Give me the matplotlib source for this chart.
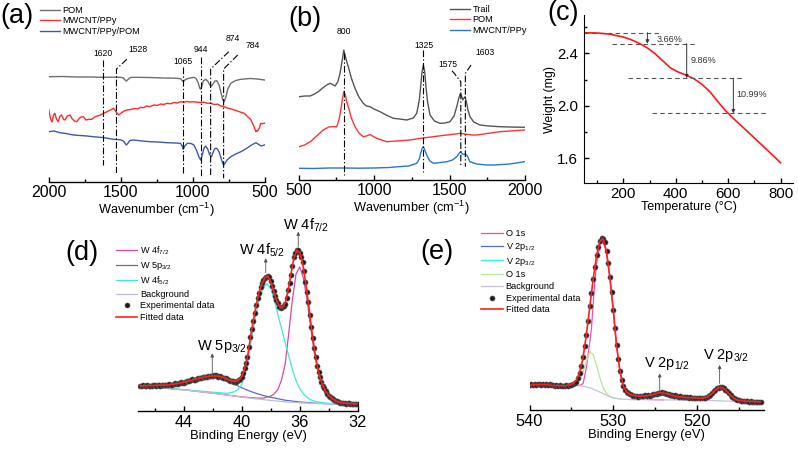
import numpy as np
import matplotlib

matplotlib.use("Agg")
import matplotlib.pyplot as plt

plt.rcParams["font.family"] = ["Liberation Sans", "DejaVu Sans"]
plt.rcParams["mathtext.fontset"] = "custom"
plt.rcParams["mathtext.rm"] = "Liberation Sans"
plt.rcParams["mathtext.it"] = "Liberation Sans:italic"
plt.rcParams["mathtext.bf"] = "Liberation Sans:bold"
plt.rcParams["mathtext.default"] = "regular"

# ---------------- (a) FTIR (offset intensities, a.u.) ----------------
ftir_pom_wn = [2000, 1900, 1800, 1700, 1641, 1560, 1500, 1480, 1468, 1459,
               1448, 1430, 1410, 1300, 1200, 1120, 1083, 1072, 1064, 1055,
               1036, 1010, 990, 975, 960, 950, 943, 935, 925, 908,
               895, 880, 868, 858, 845, 831, 815, 800, 790, 780,
               770, 755, 734, 700, 664, 600, 550, 500]
ftir_pom = [105.3, 105.5, 105.0, 105.0, 104.7, 104.8, 104.7, 104.0, 102.0, 101.0,
            102.5, 104.5, 104.7, 104.5, 104.0, 103.8, 103.3, 101.5, 100.3, 101.8,
            103.3, 104.2, 104.7, 103.5, 99.0, 94.0, 92.7, 96.0, 101.0, 102.7,
            101.0, 97.0, 96.0, 98.0, 101.0, 101.3, 97.0, 88.0, 82.0, 80.3,
            84.0, 93.0, 98.7, 101.5, 102.7, 103.5, 103.0, 102.0]

ftir_ppy_wn = [2000, 1990, 1982, 1975, 1965, 1955, 1945, 1932, 1920, 1909,
               1895, 1885, 1870, 1850, 1835, 1820, 1804, 1790, 1775, 1757,
               1740, 1720, 1699, 1680, 1660, 1641, 1620, 1594, 1570, 1548,
               1530, 1513, 1495, 1475, 1455, 1430, 1400, 1380, 1362, 1340,
               1320, 1295, 1269, 1245, 1220, 1200, 1176, 1150, 1130, 1105,
               1083, 1060, 1040, 1015, 990, 965, 940, 920, 897, 875,
               850, 825, 804, 780, 760, 735, 711, 690, 680, 660,
               641, 625, 615, 600, 594, 585, 575, 565, 560, 553,
               548, 542, 536, 530, 525, 515, 505, 495]
ftir_ppy = [73.7, 66.0, 62.0, 60.0, 67.0, 68.7, 63.0, 60.3, 66.0, 67.0,
            62.5, 62.0, 66.0, 67.0, 63.0, 61.0, 60.3, 63.0, 65.0, 65.3,
            62.0, 62.7, 62.7, 65.0, 66.0, 67.0, 68.5, 70.3, 72.0, 73.7,
            70.0, 67.0, 69.0, 71.0, 72.0, 72.5, 73.5, 73.0, 74.7, 74.2,
            76.0, 75.4, 77.0, 76.6, 78.0, 77.5, 78.7, 78.2, 79.5, 79.0,
            80.3, 79.8, 80.5, 80.0, 80.3, 79.7, 79.5, 79.8, 78.7, 78.9,
            77.5, 77.8, 76.0, 75.3, 74.0, 73.2, 72.0, 71.2, 70.5, 69.5,
            68.7, 66.5, 65.0, 63.2, 62.0, 59.0, 56.0, 52.5, 50.3, 51.5,
            51.0, 52.5, 53.7, 57.0, 58.7, 58.2, 58.7, 58.7]

ftir_hyb_wn = [2000, 1960, 1940, 1920, 1880, 1827, 1780, 1734, 1690, 1641,
               1600, 1548, 1500, 1480, 1465, 1459, 1450, 1435, 1410, 1350,
               1293, 1240, 1176, 1120, 1083, 1072, 1064, 1056, 1036, 1010,
               990, 970, 955, 943, 932, 920, 908, 895, 880, 868,
               856, 845, 831, 815, 800, 790, 785, 775, 760, 734,
               700, 664, 620, 590, 560, 545, 524, 500]
ftir_hyb = [50.3, 51.0, 50.0, 49.3, 48.5, 47.0, 46.5, 46.0, 45.3, 44.7,
            44.0, 42.7, 42.2, 41.0, 38.0, 37.0, 38.5, 41.5, 42.0, 41.0,
            40.3, 40.0, 39.3, 39.0, 38.7, 36.0, 32.7, 35.5, 38.7, 38.5,
            37.0, 31.0, 25.0, 22.0, 27.0, 34.0, 36.0, 33.0, 27.0, 25.3,
            30.0, 33.5, 33.7, 30.0, 23.0, 18.5, 17.0, 18.5, 22.0, 25.3,
            28.0, 30.3, 34.0, 37.0, 39.3, 38.0, 36.0, 37.0]

# ---------------- (b) Raman (offset intensities, a.u.) ----------------
raman_trail_wn = [505, 540, 576, 600, 631, 660, 687, 709, 725, 742,
                  760, 775, 790, 800, 808, 818, 830, 850, 874, 900,
                  929, 950, 974, 1000, 1040, 1080, 1128, 1170, 1217, 1260,
                  1283, 1300, 1309, 1318, 1327, 1336, 1344, 1355, 1371, 1400,
                  1437, 1470, 1503, 1530, 1548, 1562, 1570, 1578, 1588, 1596,
                  1603, 1612, 1622, 1636, 1660, 1702, 1760, 1834, 1900, 1995]
raman_trail = [83.3, 84.0, 84.0, 85.5, 88.3, 92.0, 95.0, 96.7, 95.5, 94.0,
               98.0, 106.7, 120.0, 130.0, 125.0, 119.0, 113.3, 102.0, 91.7, 83.0,
               76.7, 74.0, 73.3, 71.0, 68.3, 65.0, 61.7, 61.0, 60.0, 62.0,
               66.7, 80.0, 93.3, 108.0, 115.0, 108.0, 93.3, 78.0, 65.0, 59.0,
               56.7, 57.0, 58.3, 64.0, 73.3, 82.0, 86.0, 85.0, 80.0, 82.0,
               83.3, 78.0, 70.0, 63.3, 58.0, 55.0, 54.0, 53.3, 53.0, 52.7]

raman_pom_wn = [505, 540, 580, 620, 664, 700, 720, 753, 768, 780,
                792, 800, 810, 820, 830, 850, 874, 900, 929, 950,
                974, 990, 1018, 1050, 1084, 1150, 1239, 1300, 1393, 1480,
                1540, 1570, 1600, 1650, 1680, 1750, 1834, 1900, 1995]
raman_pom = [33.3, 35.0, 38.5, 44.0, 50.0, 53.0, 53.3, 53.3, 60.0, 70.0,
             82.0, 88.3, 85.0, 78.0, 73.3, 62.0, 53.3, 47.0, 43.3, 44.0,
             45.5, 44.0, 41.7, 40.0, 38.3, 39.0, 40.0, 41.5, 43.3, 45.0,
             46.0, 46.7, 46.0, 45.0, 45.0, 46.5, 48.3, 49.0, 50.0]

raman_ppy_wn = [505, 600, 700, 800, 900, 1000, 1100, 1162, 1230, 1283,
                1300, 1309, 1320, 1327, 1336, 1349, 1370, 1393, 1440, 1482,
                1520, 1548, 1565, 1575, 1585, 1595, 1605, 1618, 1635, 1680,
                1746, 1800, 1900, 1995]
raman_ppy = [11.7, 11.5, 12.0, 12.0, 11.8, 12.0, 12.5, 13.3, 14.0, 16.7,
             21.0, 26.7, 32.0, 33.3, 30.0, 25.0, 19.0, 16.7, 17.5, 18.3,
             20.0, 23.3, 27.0, 28.3, 26.0, 25.5, 26.0, 24.0, 18.3, 16.0,
             15.0, 15.0, 16.0, 18.3]

# ---------------- (c) TGA ----------------
tga_temp = [50, 100, 150, 200, 230, 260, 290, 320, 350, 380, 410,
            440, 470, 500, 530, 560, 590, 620, 650, 700, 750, 800]
tga_weight = [2.558, 2.556, 2.547, 2.525, 2.505, 2.478, 2.445, 2.400, 2.345, 2.290, 2.258,
              2.235, 2.207, 2.165, 2.110, 2.035, 1.965, 1.905, 1.850, 1.757, 1.663, 1.568]
tga_levels = [2.558, 2.475, 2.211, 1.944]
tga_losses = ["3.66%", "9.86%", "10.99%"]

# ---------------- (d) W 4f XPS (a.u.) ----------------
w4f_fit = [12.8, 12.9, 12.9, 13.0, 13.0, 13.0, 13.1, 13.2, 13.2, 13.3,
           13.4, 13.6, 13.8, 14.0, 14.4, 14.7, 15.0, 15.4, 15.8, 16.2,
           16.6, 16.9, 17.2, 17.5, 17.8, 17.9, 17.9, 17.7, 17.4, 16.9,
           16.2, 15.6, 15.2, 15.1, 15.8, 17.5, 21.5, 27.5, 37.5, 46.0,
           54.0, 60.5, 65.0, 68.0, 68.8, 66.0, 61.5, 56.5, 53.5, 52.6,
           55.0, 61.5, 70.0, 78.0, 82.0, 81.0, 75.5, 66.0, 55.0, 43.0,
           32.0, 23.5, 17.0, 13.0, 10.0, 8.0, 6.6, 5.5, 4.8, 4.3,
           4.0, 3.9, 3.8, 3.7, 3.6, 3.6]
w4f_exp = [12.6, 13.0, 13.1, 12.7, 12.8, 13.2, 13.0, 12.8, 12.9, 13.2,
           13.1, 12.9, 13.3, 13.1, 12.9, 13.2, 13.4, 13.1, 13.2, 13.5,
           13.7, 13.4, 13.5, 13.8, 14.1, 13.9, 13.9, 14.2, 14.6, 14.4,
           14.5, 14.9, 15.3, 15.1, 15.2, 15.6, 16.1, 15.8, 16.0, 16.5,
           16.9, 16.6, 16.7, 17.2, 17.5, 17.3, 17.4, 17.9, 18.1, 17.7,
           17.8, 18.2, 18.2, 17.8, 17.6, 17.8, 17.5, 17.0, 16.7, 16.6,
           16.4, 15.8, 15.5, 15.2, 15.3, 15.0, 15.0, 15.2, 15.9, 16.5,
           17.3, 19.2, 21.8, 24.3, 27.3, 32.4, 37.9, 41.6, 45.7, 50.2,
           54.3, 57.6, 60.2, 63.1, 65.4, 66.8, 67.8, 68.6, 69.1, 68.3,
           66.2, 64.0, 61.3, 58.8, 56.8, 54.9, 53.2, 52.6, 52.9, 53.4,
           54.7, 57.8, 61.9, 65.5, 69.6, 74.1, 78.4, 80.5, 82.1, 82.3,
           80.6, 78.4, 75.9, 71.2, 65.7, 60.6, 55.4, 48.9, 42.7, 37.2,
           32.3, 27.4, 23.2, 20.1, 17.3, 14.8, 12.8, 11.6, 10.2, 8.9,
           7.9, 7.3, 6.8, 6.0, 5.4, 5.2, 4.9, 4.5, 4.2, 4.3,
           4.1, 3.9, 3.8, 4.0, 3.9, 3.7, 3.6, 3.8, 3.7, 3.5,
           3.5]
w4f_fit_be = np.linspace(47.0, 32.0, len(w4f_fit))
w4f_exp_be = np.linspace(47.0, 32.0, len(w4f_exp))

w_bg_be = [47, 46, 45, 44, 43, 42, 41, 40, 39, 38, 37, 36, 35, 34, 33, 32]
w_bg = [12.6, 12.1, 11.5, 10.8, 10.0, 9.1, 8.1, 7.1, 6.2, 5.4, 4.7, 4.2, 3.9, 3.7, 3.6, 3.5]

w5p_be = [47, 46, 45, 44.5, 44, 43.5, 43, 42.5, 42, 41.5, 41, 40.5, 40,
          39.5, 39, 38.5, 38, 37, 36, 35, 34, 33, 32]
w5p = [12.7, 12.4, 12.6, 13.2, 14.0, 14.9, 15.8, 16.6, 17.2, 16.9, 15.6, 13.6, 11.9,
       10.3, 9.0, 7.9, 7.0, 5.5, 4.6, 4.0, 3.7, 3.6, 3.5]

w4f52_be = [47, 45, 43, 42, 41, 40.5, 40.25, 40, 39.75, 39.5, 39.25, 39, 38.75,
            38.5, 38.25, 38, 37.75, 37.5, 37.25, 37, 36.75, 36.5, 36.25, 36,
            35.75, 35.5, 35.25, 35, 34.5, 34, 33, 32]
w4f52 = [12.6, 11.6, 10.2, 9.6, 9.0, 9.8, 11.0, 13.5, 19.0, 29.0, 40.0, 50.0, 58.0,
         63.0, 65.0, 62.5, 56.5, 49.0, 42.0, 35.0, 28.0, 21.0, 15.5, 11.5,
         8.8, 7.0, 5.8, 5.0, 4.3, 3.9, 3.6, 3.5]

w4f72_be = [47, 44, 42, 40, 39, 38.5, 38, 37.75, 37.5, 37.25, 37, 36.75, 36.5,
            36.25, 36, 35.75, 35.5, 35.25, 35, 34.75, 34.5, 34.25, 34, 33.75,
            33.5, 33, 32]
w4f72 = [12.6, 10.8, 9.1, 7.2, 6.6, 6.6, 7.6, 8.8, 11.0, 16.0, 24.0, 40.0, 57.0,
         70.0, 73.5, 68.0, 57.0, 43.0, 30.0, 20.5, 14.0, 10.0, 7.7, 6.0,
         4.9, 4.0, 3.5]

# ---------------- (e) O 1s / V 2p XPS (a.u.) ----------------
ov_fit = [12.8, 12.9, 13.0, 13.0, 13.1, 13.0, 12.8, 12.6, 12.5, 12.4,
          12.4, 12.5, 12.8, 13.5, 15.2, 19.5, 27.0, 39.0, 53.0, 67.0,
          79.0, 86.5, 87.8, 81.0, 68.0, 51.5, 33.0, 20.0, 12.3, 9.2,
          8.0, 7.5, 7.2, 7.1, 7.2, 7.3, 7.6, 8.0, 8.5, 8.9,
          8.7, 8.3, 7.8, 7.3, 6.9, 6.7, 6.5, 6.4, 6.3, 6.2,
          6.1, 6.0, 6.1, 6.6, 7.7, 9.4, 11.0, 11.7, 11.0, 9.4,
          7.6, 6.0, 5.1, 4.8, 4.6, 4.5, 4.4, 4.3, 4.2, 4.1]
ov_exp = [12.6, 13.1, 12.9, 13.3, 12.7, 13.2, 13.4, 12.9, 13.3, 13.0,
          13.2, 12.8, 13.1, 12.6, 12.9, 12.4, 12.7, 12.3, 12.6, 12.2,
          12.5, 12.3, 12.6, 12.4, 12.7, 12.9, 13.2, 13.8, 14.6, 16.4,
          19.2, 22.8, 27.3, 32.6, 38.7, 45.6, 53.4, 60.2, 67.3, 73.4,
          79.3, 83.6, 86.7, 88.1, 87.6, 86.1, 81.4, 75.6, 68.2, 60.3,
          51.2, 41.8, 33.3, 26.1, 19.8, 15.6, 12.1, 10.4, 9.1, 8.6,
          8.0, 7.6, 7.4, 7.1, 7.3, 6.9, 7.2, 7.0, 7.3, 7.5,
          7.3, 7.6, 7.4, 7.8, 8.1, 8.0, 8.4, 8.7, 8.9, 9.0,
          8.6, 8.7, 8.2, 8.4, 7.9, 7.7, 7.4, 7.6, 7.2, 6.9,
          7.0, 6.7, 6.9, 6.5, 6.6, 6.3, 6.5, 6.2, 6.4, 6.1,
          6.0, 6.3, 5.9, 6.1, 6.0, 6.3, 6.7, 7.2, 7.9, 8.6,
          9.5, 10.3, 11.1, 11.5, 11.8, 11.6, 11.1, 10.4, 9.5, 8.5,
          7.5, 6.7, 6.0, 5.5, 5.1, 4.9, 4.6, 4.8, 4.5, 4.4,
          4.6, 4.3, 4.4, 4.2, 4.3, 4.0, 4.1, 3.9, 4.1]
ov_fit_be = np.linspace(540.0, 512.4, len(ov_fit))
ov_exp_be = np.linspace(540.0, 512.4, len(ov_exp))

ov_bg_be = [540, 538, 536, 535, 534.5, 534, 533.5, 533, 532.5, 532, 531.5, 531,
            530.5, 530, 529, 528, 526, 524, 522, 520, 518, 516, 514, 512.4]
ov_bg = [12.8, 12.9, 12.5, 12.6, 12.5, 12.4, 12.1, 11.6, 10.9, 10.0, 9.0, 8.0,
         7.0, 6.2, 5.6, 5.4, 5.3, 5.2, 5.1, 5.0, 4.8, 4.5, 4.2, 4.0]

o1s_main_be = [536, 535, 534.4, 534, 533.6, 533.2, 532.8, 532.6, 532.4, 532.2, 532.0,
               531.6, 531.4, 531.2, 530.8, 530.4, 530.0, 529.6, 529.2, 528.8,
               528.4, 528.0, 527, 526, 524]
o1s_main = [12.4, 12.6, 12.6, 12.6, 13.5, 22.0, 35.0, 42.0, 54.0, 66.0, 75.0,
            84.5, 86.5, 86.5, 80.5, 67.5, 51.0, 32.5, 19.5, 11.8,
            8.5, 7.0, 5.8, 5.4, 5.2]

o1s_sub_be = [536, 535, 534.5, 534, 533.6, 533.2, 532.8, 532.4, 532.0, 531.6,
              531.2, 530.8, 530.4, 530, 529.5, 529]
o1s_sub = [12.4, 12.6, 13.2, 15.5, 19.5, 25.0, 30.0, 28.5, 23.0, 16.5,
           11.5, 8.5, 7.0, 6.2, 5.8, 5.6]

v2p12_be = [528, 527, 526, 525.5, 525, 524.6, 524.2, 523.8, 523.4, 523, 522, 521]
v2p12 = [5.4, 5.4, 5.6, 6.2, 7.1, 7.6, 7.7, 7.3, 6.6, 6.0, 5.3, 5.2]

v2p32_be = [521, 520, 519, 518.6, 518.2, 517.8, 517.4, 517.0, 516.6, 516.2,
            515.8, 515.4, 515, 514, 513]
v2p32 = [5.0, 5.2, 5.7, 6.8, 8.6, 10.3, 11.3, 11.4, 10.5, 8.8,
         7.0, 5.7, 5.0, 4.3, 4.1]

# ---------------- figure layout (pixel based) ----------------
W_PX, H_PX = 798, 453
fig = plt.figure(figsize=(W_PX / 100, H_PX / 100), dpi=100)


def add_axes_px(left, top, right, bottom):
    return fig.add_axes([left / W_PX, 1 - bottom / H_PX,
                         (right - left) / W_PX, (bottom - top) / H_PX])


def bottom_axis_only(ax, labelsize=11.5, pad=2.2):
    for side in ("left", "right", "top"):
        ax.spines[side].set_visible(False)
    ax.spines["bottom"].set_linewidth(1.0)
    ax.set_yticks([])
    ax.tick_params(axis="x", which="both", direction="in", width=1.0)
    ax.tick_params(axis="x", which="major", length=3.5, labelsize=labelsize, pad=pad)
    ax.tick_params(axis="x", which="minor", length=2.0)
    ax.patch.set_alpha(0)


def legend_px(ax, handles, labels, x, y_top, **kw):
    ax.legend(handles, labels, loc="upper left",
              bbox_to_anchor=(x / W_PX, 1 - y_top / H_PX),
              bbox_transform=fig.transFigure, frameon=False,
              borderpad=0, borderaxespad=0, **kw)


DASHDOT = (0, (6, 2, 1.2, 2))

# ---- (a) ----
ax_a = add_axes_px(48.5, 0, 264.5, 182)
la1, = ax_a.plot(ftir_pom_wn, ftir_pom, color="#6e6e6e", lw=1.0)
la2, = ax_a.plot(ftir_ppy_wn, ftir_ppy, color="#ff2a2a", lw=1.0)
la3, = ax_a.plot(ftir_hyb_wn, ftir_hyb, color="#3d5aa8", lw=1.0)
ax_a.set_xlim(2000, 500)
ax_a.set_ylim(0, 182)
ax_a.set_xticks([2000, 1500, 1000, 500])
ax_a.set_xticks([1750, 1250, 750], minor=True)
bottom_axis_only(ax_a)
ax_a.set_xlabel("Wavenumber (cm$^{-1}$)", fontsize=9.2, labelpad=0.5)
ftir_guides = [
    ("1620", [1620, 1620], [122, 17], (1621, 129)),
    ("1528", [1456, 1528, 1528], [122.7, 113, 9], (1380, 132)),
    ("1065", [1065, 1065], [115.3, 9.3], (1064, 120.3)),
    ("944", [944, 944], [124.7, 4.3], (941, 132)),
    ("874", [748, 874, 874], [130.3, 113, 5.3], (721, 143.7)),
    ("784", [686, 784, 784], [127, 113, 3.7], (581, 136)),
]
for txt, gx, gy, (tx, ty) in ftir_guides:
    ax_a.plot(gx, gy, color="black", lw=0.8, ls=DASHDOT)
    ax_a.text(tx, ty, txt, fontsize=6.2, ha="center", va="center")
legend_px(ax_a, [la1, la2, la3], ["POM", "MWCNT/PPy", "MWCNT/PPy/POM"], 40, 6,
          fontsize=6.6, handlelength=2.2, handletextpad=0.25, labelspacing=0.15)

# ---- (b) ----
ax_b = add_axes_px(298.5, 0, 525, 180)
lb1, = ax_b.plot(raman_trail_wn, raman_trail, color="#555555", lw=1.0)
lb2, = ax_b.plot(raman_pom_wn, raman_pom, color="#ff3333", lw=1.0)
lb3, = ax_b.plot(raman_ppy_wn, raman_ppy, color="#2a74d4", lw=1.0)
ax_b.set_xlim(500, 2000)
ax_b.set_ylim(0, 180)
ax_b.set_xticks([500, 1000, 1500, 2000])
ax_b.set_xticks([750, 1250, 1750], minor=True)
bottom_axis_only(ax_b)
ax_b.set_xlabel("Wavenumber (cm$^{-1}$)", fontsize=9.2, labelpad=0.5)
raman_guides = [
    ("800", [800, 800], [127, 5], (800, 148.3)),
    ("1325", [1325, 1325], [130, 7.7], (1328, 134)),
    ("1575", [1517, 1575, 1575], [109.3, 98.3, 13.3], (1488, 115.3)),
    ("1603", [1643, 1605, 1605], [115, 106.7, 13.3], (1738, 127.3)),
]
for txt, gx, gy, (tx, ty) in raman_guides:
    ax_b.plot(gx, gy, color="black", lw=0.8, ls=DASHDOT)
    ax_b.text(tx, ty, txt, fontsize=6.2, ha="center", va="center")
legend_px(ax_b, [lb1, lb2, lb3], ["Trail", "POM", "MWCNT/PPy"], 450, 5,
          fontsize=6.6, handlelength=2.2, handletextpad=0.25, labelspacing=0.15)

# ---- (c) ----
ax_c = add_axes_px(584, 15, 793, 183.3)
ax_c.plot(tga_temp, tga_weight, color="#ff1a1a", lw=1.2)
ax_c.set_xlim(50, 847.7)
ax_c.set_ylim(1.411, 2.693)
for side in ("right", "top"):
    ax_c.spines[side].set_visible(False)
ax_c.set_xticks([200, 400, 600, 800])
ax_c.set_xticks([100, 300, 500, 700], minor=True)
ax_c.set_yticks([1.6, 2.0, 2.4])
ax_c.set_yticks([1.8, 2.2, 2.6], minor=True)
ax_c.set_yticklabels(["1.6", "2.0", "2.4"])
ax_c.tick_params(which="both", direction="in", width=1.0)
ax_c.tick_params(which="major", length=3.5, labelsize=10.8)
ax_c.tick_params(axis="x", which="major", pad=2.5)
ax_c.tick_params(axis="y", which="major", pad=4.5)
ax_c.tick_params(which="minor", length=2.0)
ax_c.set_xlabel("Temperature (°C)", fontsize=9, labelpad=0.3)
ax_c.set_ylabel("Weight (mg)", fontsize=8.8, labelpad=0.5)
step_spans = [(50, 335), (156, 481), (219, 658), (308, 747)]
for lvl, (x0, x1) in zip(tga_levels, step_spans):
    ax_c.plot([x0, x1], [lvl, lvl], color="#555555", lw=0.8, ls=(0, (4, 3)))
arrow_x = [292, 442, 620]
label_pos = [(327, 2.503), (457, 2.35), (633, 2.084)]
for i, txt in enumerate(tga_losses):
    ax_c.annotate("", xy=(arrow_x[i], tga_levels[i + 1]), xytext=(arrow_x[i], tga_levels[i]),
                  arrowprops=dict(arrowstyle="-|>", lw=0.7, color="#333333",
                                  shrinkA=0, shrinkB=0, mutation_scale=5))
    ax_c.text(label_pos[i][0], label_pos[i][1], txt, fontsize=6.5, ha="left", va="center",
              color="#333333")

# ---- (d) ----
ax_d = add_axes_px(138.3, 215, 357.7, 411)
ld1, = ax_d.plot(w4f72_be, w4f72, color="#e0479e", lw=0.9)
ld2, = ax_d.plot(w5p_be, w5p, color="#5a6cb8", lw=0.9)
ld3, = ax_d.plot(w4f52_be, w4f52, color="#3de8e0", lw=0.9)
ld4, = ax_d.plot(w_bg_be, w_bg, color="#bdbdd6", lw=0.9)
ld5, = ax_d.plot(w4f_exp_be, w4f_exp, ls="none", marker="o", ms=3.7,
                 mfc="#1a1a1a", mec="#6a6a6a", mew=0.4)
ld6, = ax_d.plot(w4f_fit_be, w4f_fit, color="#ff2020", lw=1.2)
ax_d.set_xlim(47.13, 32)
ax_d.set_ylim(0, 100)
ax_d.set_xticks([44, 40, 36, 32])
ax_d.set_xticks([46, 42, 38, 34], minor=True)
bottom_axis_only(ax_d, labelsize=11.8, pad=2.6)
ax_d.set_xlabel("Binding Energy (eV)", fontsize=9.4, labelpad=0.3)
xps_d_notes = [("W 4f$_{7/2}$", 37.17, 94.9, 36.1, 83.8, 91.5),
               ("W 4f$_{5/2}$", 40.17, 82.1, 38.34, 70.6, 77.9),
               ("W 5p$_{3/2}$", 43.1, 32.8, 42.03, 18.4, 29.4)]
for txt, tx, ty, axx, y0, y1 in xps_d_notes:
    ax_d.text(tx, ty, txt, fontsize=10.5, ha="left", va="center")
    ax_d.annotate("", xy=(axx, y1), xytext=(axx, y0),
                  arrowprops=dict(arrowstyle="-|>", lw=0.6, color="#555555",
                                  shrinkA=0, shrinkB=0, mutation_scale=5))
legend_px(ax_d, [ld1, ld2, ld3, ld4, ld5, ld6],
          ["W 4f$_{7/2}$", "W 5p$_{3/2}$", "W 4f$_{5/2}$", "Background",
           "Experimental data", "Fitted data"], 116, 244.5,
          fontsize=6.6, handlelength=2.3, handletextpad=0.3, labelspacing=0.3, numpoints=1)

# ---- (e) ----
ax_e = add_axes_px(529.5, 215, 764, 410)
le1, = ax_e.plot(o1s_main_be, o1s_main, color="#ee4fb5", lw=0.9)
le2, = ax_e.plot(v2p12_be, v2p12, color="#4a6fc4", lw=0.9)
le3, = ax_e.plot(v2p32_be, v2p32, color="#2ff2f2", lw=0.9)
le4, = ax_e.plot(o1s_sub_be, o1s_sub, color="#b9e69a", lw=0.9)
le5, = ax_e.plot(ov_bg_be, ov_bg, color="#c4c4d8", lw=0.9)
le6, = ax_e.plot(ov_exp_be, ov_exp, ls="none", marker="o", ms=3.7,
                 mfc="#1a1a1a", mec="#6a6a6a", mew=0.4)
le7, = ax_e.plot(ov_fit_be, ov_fit, color="#ff2020", lw=1.2)
ax_e.set_xlim(540, 512.0)
ax_e.set_ylim(0, 100)
ax_e.set_xticks([540, 530, 520])
ax_e.set_xticks([535, 525, 515], minor=True)
bottom_axis_only(ax_e, labelsize=11.8, pad=2.6)
ax_e.set_xlabel("Binding Energy (eV)", fontsize=9.4, labelpad=0.3)
xps_e_notes = [("V 2p$_{1/2}$", 526.3, 23.9, 524.45, 9.4, 18.8),
               ("V 2p$_{3/2}$", 519.27, 28.2, 517.3, 13.7, 23.1)]
for txt, tx, ty, axx, y0, y1 in xps_e_notes:
    ax_e.text(tx, ty, txt, fontsize=10.5, ha="left", va="center")
    ax_e.annotate("", xy=(axx, y1), xytext=(axx, y0),
                  arrowprops=dict(arrowstyle="-|>", lw=0.6, color="#555555",
                                  shrinkA=0, shrinkB=0, mutation_scale=5))
legend_px(ax_e, [le1, le2, le3, le4, le5, le6, le7],
          ["O 1s", "V 2p$_{1/2}$", "V 2p$_{3/2}$", "O 1s", "Background",
           "Experimental data", "Fitted data"], 481.3, 229,
          fontsize=6.6, handlelength=2.4, handletextpad=0.25, labelspacing=0.3, numpoints=1)

# panel tags
for tag, x, y in [("(a)", 0, 16), ("(b)", 288, 19), ("(c)", 547, 12.5),
                  ("(d)", 65, 253), ("(e)", 420.5, 251.7)]:
    fig.text(x / W_PX, 1 - y / H_PX, tag, fontsize=19.5, ha="left", va="center")

fig.savefig("out.png", dpi=100)
plt.close(fig)
